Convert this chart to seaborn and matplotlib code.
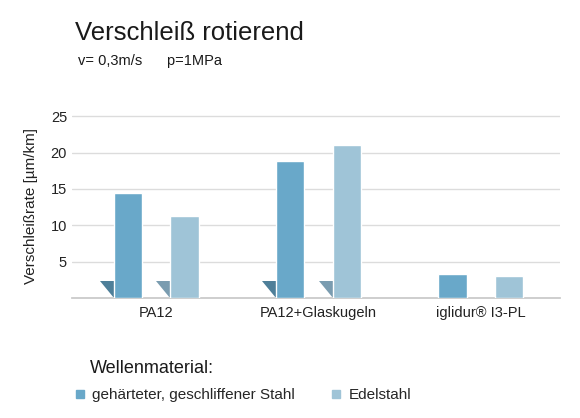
import pandas as pd
import seaborn as sns
import matplotlib
matplotlib.use('Agg')
import matplotlib.pyplot as plt
from matplotlib.patches import Polygon
from matplotlib.lines import Line2D

# data
materials = ["PA12", "PA12+Glaskugeln", "iglidur® I3-PL"]
wellen = ["gehärteter, geschliffener Stahl", "Edelstahl"]
stahl_values = [14.5, 18.8, 3.3]
edelstahl_values = [11.3, 21.1, 3.0]
y_ticks = [5, 10, 15, 20, 25]

bar_colors = ["#69a8c9", "#9fc4d7"]
shadow_colors = ["#4e7f99", "#7a9cb0"]

df = pd.DataFrame({
    "Material": materials * 2,
    "Welle": [wellen[0]] * 3 + [wellen[1]] * 3,
    "Rate": stahl_values + edelstahl_values,
})

sns.set_theme(style="white")
plt.rcParams['font.family'] = ['Liberation Sans', 'DejaVu Sans']

fig = plt.figure(figsize=(5.8, 4.18), dpi=100)
ax = fig.add_axes([0.124, 0.287, 0.842, 0.44])

sns.barplot(data=df, x="Material", y="Rate", hue="Welle", hue_order=wellen,
            palette=bar_colors, width=0.7, gap=0.5, saturation=1,
            legend=False, ax=ax, zorder=3)

# little shading wedges at the foot of the tall bars
for i, cont in enumerate(ax.containers):
    for p in cont.patches:
        if p.get_height() > 5:
            x0 = p.get_x()
            w = p.get_width()
            tri = Polygon([(x0 - 0.5 * w, 2.4), (x0, 2.4), (x0, 0)],
                          closed=True, color=shadow_colors[i], lw=0, zorder=2)
            ax.add_patch(tri)

ax.set_xlim(-0.52, 2.49)
ax.set_ylim(0, 25.3)
ax.set_yticks(y_ticks)
ax.yaxis.grid(True, color="#dcdcdc", lw=1)
ax.set_axisbelow(True)
for s in ["top", "right", "left"]:
    ax.spines[s].set_visible(False)
ax.spines["bottom"].set_color("#c8c8c8")
ax.tick_params(axis="both", length=0, labelsize=10.5, colors="#222222")
ax.tick_params(axis="x", pad=6)
ax.set_xlabel("")
ax.set_ylabel("Verschleißrate [µm/km]", fontsize=11, color="#222222", labelpad=9)

fig.text(0.129, 0.904, "Verschleiß rotierend", fontsize=18.5, color="#1a1a1a", va="baseline")
fig.text(0.134, 0.845, "v= 0,3m/s      p=1MPa", fontsize=10.5, color="#1a1a1a", va="baseline")

fig.text(0.155, 0.108, "Wellenmaterial:", fontsize=13, color="#1a1a1a", va="baseline")
handles = [Line2D([], [], marker="s", ls="", ms=6, color=c) for c in bar_colors]
fig.legend(handles, wellen, loc="center left", bbox_to_anchor=(0.106, 0.055),
           ncol=2, frameon=False, fontsize=11, handlelength=0.6,
           handletextpad=0.5, columnspacing=2.4)

fig.savefig("out.png", dpi=100)
